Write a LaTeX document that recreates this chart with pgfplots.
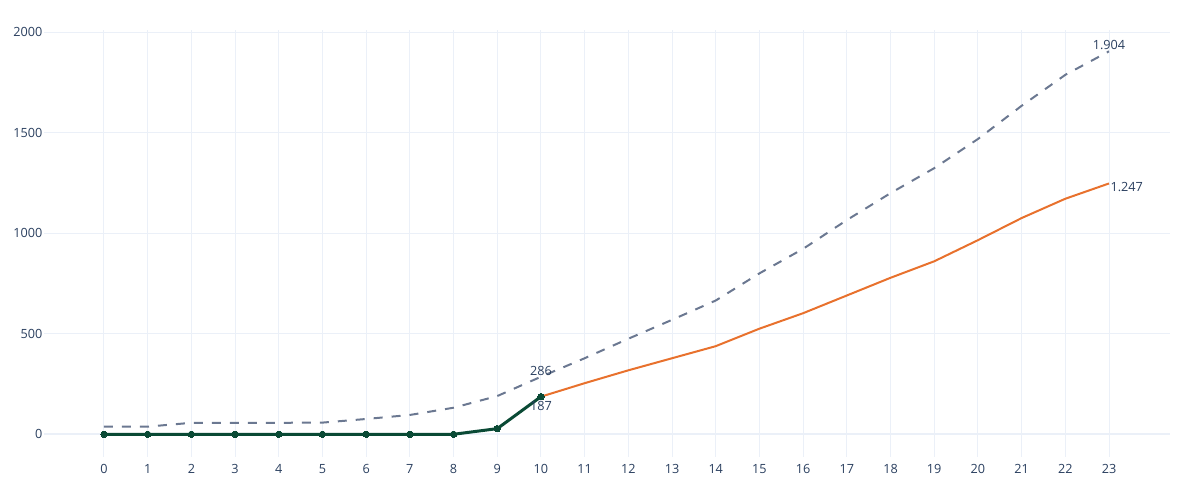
\documentclass[border=0pt]{standalone}
\usepackage{fontspec}
\setmainfont{Open Sans}
\usepackage{pgfplots}
\pgfplotsset{compat=1.18}
\definecolor{txt}{HTML}{2A3F5F}
\definecolor{gridc}{HTML}{EBF0F8}
\definecolor{dashc}{HTML}{6B7891}
\definecolor{orng}{HTML}{E8712D}
\definecolor{dgreen}{HTML}{0A4A35}
\begin{document}
\begin{tikzpicture}[font=\fontsize{9.5pt}{11.5pt}\selectfont]
\useasboundingbox (0,0) rectangle (900pt,375pt);
\begin{axis}[
  at={(33pt,32.25pt)}, anchor=south west,
  scale only axis, width=844.5pt, height=320.25pt,
  xmin=-1.373, xmax=24.396, ymin=-113, ymax=2010,
  axis line style={draw=none},
  major tick length=0pt,
  xtick={0,...,23},
  ytick={500,1000,1500,2000},
  extra y ticks={0},
  extra y tick style={major grid style={gridc, line width=1.5pt}},
  grid=major,
  major grid style={gridc, line width=0.75pt},
  tick label style={font=\fontsize{9.5pt}{11.5pt}\selectfont, text=txt},
  /pgf/number format/assume math mode=true,
  /pgf/number format/1000 sep={},
  xticklabel style={yshift=-2pt},
  yticklabel style={inner sep=1pt},
  clip=false,
]
\addplot[dashc, line width=1.5pt, dash pattern=on 6.75pt off 6.75pt] coordinates {
(0,38) (1,38) (2,57) (3,57) (4,57) (5,58) (6,76) (7,96) (8,132) (9,190) (10,286)
(11,378) (12,475) (13,569) (14,665) (15,800) (16,922) (17,1065) (18,1199)
(19,1323) (20,1468) (21,1633) (22,1787) (23,1904)};
\addplot[orng, line width=1.5pt] coordinates {
(10,187) (11,254) (12,318) (13,378) (14,438) (15,525) (16,602) (17,690)
(18,778) (19,860) (20,965) (21,1075) (22,1171) (23,1247)};
\addplot[dgreen, line width=2.25pt, mark=*, mark size=2.4pt, mark options={solid, fill=dgreen, draw=dgreen, line width=0pt}] coordinates {
(0,0) (1,0) (2,0) (3,0) (4,0) (5,0) (6,0) (7,0) (8,0) (9,28) (10,187)};
\node[anchor=south, inner sep=1pt, text=txt] at (axis cs:10,286) {286};
\node[anchor=north, inner sep=1pt, yshift=-2.5pt, text=txt] at (axis cs:10,187) {187};
\node[anchor=south, inner sep=1pt, text=txt] at (axis cs:23,1904) {1.904};
\node[anchor=west, inner sep=1pt, yshift=-3pt, text=txt] at (axis cs:23,1247) {1.247};
\end{axis}
\end{tikzpicture}
\end{document}
